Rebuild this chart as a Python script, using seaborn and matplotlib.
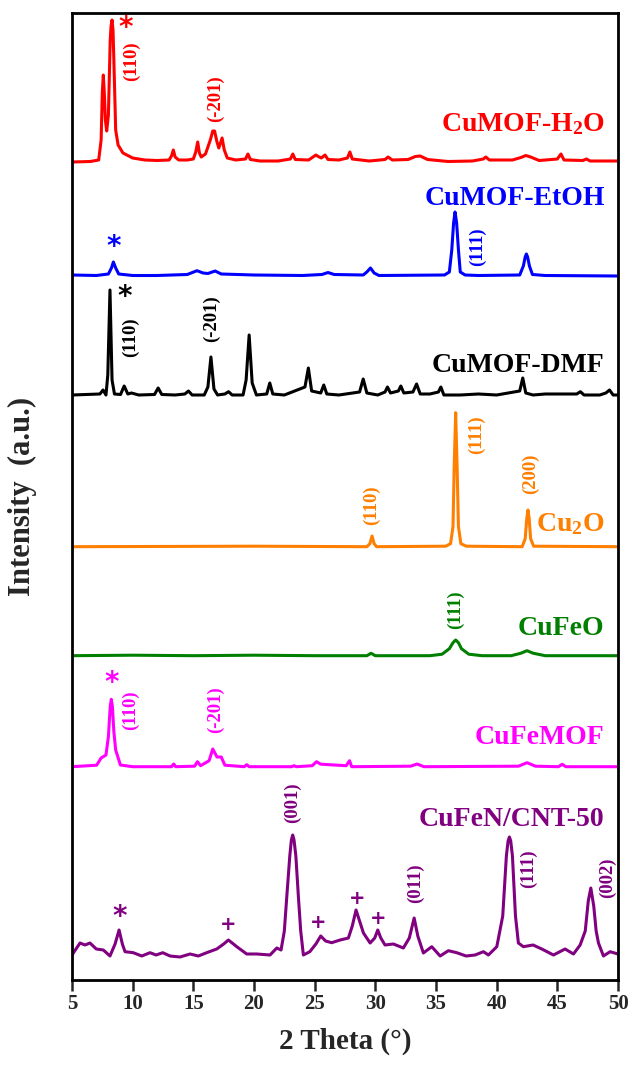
import numpy as np
import pandas as pd
import seaborn as sns
import matplotlib.pyplot as plt

# XRD patterns: 2theta (deg) and intensity above each pattern's own baseline (a.u.)
h2o_theta = [5.0, 6.5, 7.2, 7.4, 7.5, 7.58, 7.66, 7.75, 7.86, 8.0, 8.15, 8.22, 8.3, 8.38, 8.45, 8.6, 8.8,
             9.2, 10.0, 11.0, 12.0, 13.0, 13.2, 13.35, 13.5, 13.8, 14.5, 15.0, 15.2, 15.36, 15.5, 15.65,
             16.0, 16.4, 16.6, 16.75, 16.95, 17.1, 17.37, 17.55, 17.8, 18.5, 19.3, 19.5, 19.7, 20.5, 22.0,
             23.0, 23.2, 23.4, 24.5, 25.1, 25.3, 25.55, 25.85, 26.1, 27.0, 27.7, 27.9, 28.1, 29.5, 30.8,
             31.05, 31.4, 32.7, 33.3, 33.7, 34.3, 36.0, 38.0, 38.9, 39.1, 39.4, 41.3, 42.0, 42.4, 42.8,
             43.5, 45.0, 45.3, 45.55, 47.1, 47.4, 47.7, 49.0, 50.0]
h2o_int = [0, 0.5, 2, 22, 70, 87, 70, 42, 31, 47, 122, 136, 142, 132, 102, 32, 17,
           9, 4, 2, 1.5, 2, 6, 12, 5, 2, 2, 3, 10, 20, 9, 5,
           8, 22, 31, 31, 20, 14, 24, 12, 4, 2, 3, 8, 2.5, 1, 1,
           3, 8, 2.5, 2, 7, 5.5, 4, 7, 2.5, 2, 4, 10, 3, 1, 2.5,
           5, 2, 2.5, 5.5, 6, 2.5, 0.5, 1, 3, 5, 2, 2, 4.5, 6.5, 5,
           1.5, 3, 8, 2, 1.5, 3, 1, 1, 1]

etoh_theta = [5.0, 7.0, 8.0, 8.25, 8.41, 8.6, 8.85, 10.0, 12.0, 14.5, 15.3, 15.8, 16.2, 16.8, 17.3, 20.0,
              24.0, 25.6, 26.1, 26.6, 29.0, 29.3, 29.6, 29.9, 30.3, 35.7, 36.1, 36.3, 36.45, 36.57, 36.7,
              36.85, 37.0, 37.4, 38.5, 41.9, 42.2, 42.35, 42.45, 42.55, 42.7, 42.95, 44.0, 50.0]
etoh_int = [0, -0.5, 1, 7, 13, 7, 1, -0.5, -0.5, 0.5, 4.3, 2, 1.5, 4, 1, 0,
            -0.5, 0.5, 2.5, 0.5, 0, 3, 7, 2, -0.5, 0, 3, 25, 52, 63, 52,
            25, 3, 0, -0.5, 0, 9, 18, 21, 18, 9, 0.5, -0.5, -1]

dmf_theta = [5.0, 7.3, 7.56, 7.8, 7.95, 8.13, 8.3, 8.5, 9.0, 9.3, 9.6, 9.9, 10.5, 11.8, 12.1, 12.4, 13.5,
             14.3, 14.6, 14.9, 15.9, 16.2, 16.45, 16.7, 17.0, 17.6, 17.9, 18.2, 19.1, 19.35, 19.6, 19.85,
             20.2, 21.05, 21.3, 21.55, 22.5, 24.2, 24.48, 24.75, 25.5, 25.75, 26.0, 27.0, 28.7, 29.0,
             29.3, 30.2, 30.8, 31.0, 31.25, 31.9, 32.1, 32.35, 33.1, 33.4, 33.7, 34.5, 35.2, 35.4,
             35.65, 37.0, 38.5, 40.0, 41.9, 42.15, 42.4, 43.0, 44.0, 46.6, 46.9, 47.2, 48.5, 49.0,
             49.3, 49.6, 50.0]
dmf_int = [0, 1, 5, 0, 20, 105, 15, 1, 0.5, 9, 1, 2, 0, 0.5, 7, 0.5, 0,
           1, 4, 0, 0, 8, 38, 6, 0, 1, 3.3, 0, 0, 15, 60, 12,
           0, 1, 12, 1, 0, 8, 27, 4, 2, 10, 1, 0, 3, 16,
           2, 0, 3, 8, 2, 4, 9, 2, 3, 11, 1, 1, 3, 8,
           0, 0, 1, 0, 4, 17, 2, 0, 1, 1, 3.3, 0, 0, 2,
           5, 0, 0]

cu2o_theta = [5.0, 20.0, 29.3, 29.55, 29.73, 29.9, 30.1, 35.8, 36.2, 36.4, 36.5, 36.62, 36.74, 36.85,
              37.05, 37.5, 42.1, 42.35, 42.48, 42.58, 42.68, 42.8, 43.05, 50.0]
cu2o_int = [0, 0.5, 0, 3, 10.7, 3, 0, 0.5, 3, 20, 80, 134, 80, 20,
            3, 0.5, 0, 8, 28, 36.7, 28, 8, 0.5, 0]

cufeo_theta = [5.0, 10.0, 15.0, 20.0, 25.0, 29.3, 29.65, 30.0, 34.5, 35.5, 36.1, 36.4, 36.62, 36.85,
               37.1, 37.7, 38.8, 41.2, 42.0, 42.5, 43.0, 44.0, 50.0]
cufeo_int = [0, 0.5, 0, 0.5, 0, 0, 2.4, 0, 0, 1.5, 7, 13, 15.7, 13,
             7, 1.5, 0, 0, 2.5, 5, 2.5, 0, 0]

cufemof_theta = [5.0, 7.03, 7.4, 7.8, 8.0, 8.15, 8.24, 8.33, 8.45, 8.6, 8.99, 10.0, 13.2, 13.38, 13.55,
                 15.1, 15.34, 15.6, 16.3, 16.6, 16.95, 17.3, 17.6, 19.2, 19.4, 19.6, 23.1, 23.3, 23.5,
                 24.8, 25.15, 25.5, 27.6, 27.87, 28.05, 32.9, 33.45, 34.0, 41.8, 42.5, 43.2, 45.1, 45.4,
                 45.7, 50.0]
cufemof_int = [0, 1.5, 8.7, 11.7, 30, 60, 67.4, 60, 35, 16.7, 1.7, 0, 0, 2.7, 0,
               0.5, 5, 1, 6, 17.7, 9.7, 9.7, 1.5, 0, 2, 0, 0, 1, 0,
               1, 5, 2.5, 1, 6, 0, 0.5, 2.7, 0, 0.5, 4, 0.5, 0, 2.4,
               0, 0]

cnt_theta = [5.0, 5.66, 6.07, 6.48, 7.0, 7.58, 8.13, 8.55, 8.88, 9.15, 9.37, 10.05, 10.75, 11.43, 11.93,
             12.48, 13.08, 13.9, 14.73, 15.41, 16.1, 16.93, 17.5, 17.89, 18.2, 18.58, 19.4, 20.23, 21.32,
             21.88, 22.23, 22.5, 22.7, 22.95, 23.08, 23.19, 23.3, 23.45, 23.66, 23.85, 24.07, 24.6, 25.1,
             25.5, 25.9, 26.4, 27.1, 27.78, 28.1, 28.41, 28.7, 29.02, 29.57, 29.95, 30.2, 30.45, 30.8,
             31.49, 32.31, 32.8, 33.2, 33.5, 33.96, 34.65, 35.34, 36.02, 36.71, 37.48, 38.22, 38.91,
             39.32, 40.01, 40.5, 40.8, 40.94, 41.05, 41.16, 41.3, 41.55, 41.79, 42.2, 43.0, 43.72, 44.68,
             45.64, 46.33, 46.88, 47.3, 47.55, 47.76, 48.0, 48.2, 48.39, 48.8, 49.35, 50.0]
cnt_int = [1, 13, 11, 13, 7, 6, 0, 12, 26, 12, 4.3, 3.3, 0, 3.3, 1,
           3.3, 0, -1, 2, 0, 3.3, 7, 12, 16, 13, 9.3, 2, 2, 1,
           8, 6, 25, 59, 100, 116, 121, 116, 100, 59, 25, 1, 4.3, 12,
           20, 15, 13.3, 16, 18, 30, 46, 35, 23, 13, 18, 26, 18, 11,
           12, 8, 18, 38, 20, 3, 9.3, 0, 5.3, 3.3, 0, 1, 4.3,
           1, 9.3, 40, 100, 115, 119, 115, 100, 40, 13, 9.3, 11, 7, 1,
           7, 2, 11, 25, 55, 68, 50, 25, 13, 0, 4.3, 2]

samples = ['CuMOF-H2O', 'CuMOF-EtOH', 'CuMOF-DMF', 'Cu2O', 'CuFeO', 'CuFeMOF', 'CuFeN/CNT-50']
sample_labels = ['CuMOF-H$_2$O', 'CuMOF-EtOH', 'CuMOF-DMF', 'Cu$_2$O', 'CuFeO', 'CuFeMOF', 'CuFeN/CNT-50']
offsets = [818, 705, 585, 433.3, 324.3, 213.3, 24]
colors = ['#ff0000', '#0000ff', '#000000', '#ff7f00', '#007f00', '#ff00ff', '#800080']
thetas = [h2o_theta, etoh_theta, dmf_theta, cu2o_theta, cufeo_theta, cufemof_theta, cnt_theta]
ints = [h2o_int, etoh_int, dmf_int, cu2o_int, cufeo_int, cufemof_int, cnt_int]

# sample name position (baseline height of text, stacked units)
name_y = [849, 775, 608, 449, 345, 236, 154]

# peak annotations: sample index, text, 2theta, height (stacked units)
ann_idx = [0, 0, 0, 1, 1, 2, 2, 2, 3, 3, 3, 4, 5, 5, 5, 6, 6, 6, 6, 6, 6, 6, 6, 6]
ann_text = ['*', '(110)', '(-201)', '*', '(111)', '*', '(110)', '(-201)', '(110)', '(111)', '(200)',
            '(111)', '*', '(110)', '(-201)', '*', '+', '+', '+', '+', '(001)', '(011)', '(111)', '(002)']
ann_x = [9.45, 9.9, 16.84, 8.41, 38.4, 9.37, 9.78, 16.5, 29.7, 38.3, 42.8,
         36.6, 8.24, 9.8, 16.85, 8.9, 17.9, 25.3, 28.5, 30.2, 23.2, 33.3, 42.6, 49.1]
ann_y = [952, 919, 881, 733, 733, 683, 643, 661, 475, 545, 506,
         370, 297, 270, 270, 63, 55, 57, 82, 62, 177, 97, 111, 102]

rows = []
for s, th, it, off in zip(samples, thetas, ints, offsets):
    for t, v in zip(th, it):
        rows.append({'sample': s, 'theta': t, 'y': v + off})
df = pd.DataFrame(rows)

sns.set_style('white')
plt.rcParams['font.family'] = ['Liberation Serif', 'DejaVu Serif']
plt.rcParams['font.weight'] = 'bold'
plt.rcParams['axes.labelweight'] = 'bold'
plt.rcParams['mathtext.fontset'] = 'custom'
plt.rcParams['mathtext.rm'] = 'Liberation Serif:bold'
plt.rcParams['mathtext.bf'] = 'Liberation Serif:bold'
plt.rcParams['mathtext.default'] = 'rm'

fig = plt.figure(figsize=(6.35, 10.65), dpi=100)
ax = fig.add_axes([72 / 635, 1 - 980 / 1065, 546 / 635, 967.5 / 1065])

sns.lineplot(data=df, x='theta', y='y', hue='sample', palette=dict(zip(samples, colors)),
             estimator=None, sort=False, legend=False, linewidth=2.2, ax=ax)

for lab, yy, c in zip(sample_labels, name_y, colors):
    ax.text(48.9, yy, lab, color=c, fontsize=20, fontweight='bold', ha='right', va='baseline')

for i, t, x, y in zip(ann_idx, ann_text, ann_x, ann_y):
    if t == '*':
        ax.text(x, y, t, color=colors[i], fontsize=20, fontweight='bold', ha='center', va='center',
                family='DejaVu Sans')
    elif t == '+':
        ax.text(x, y, t, color=colors[i], fontsize=14, fontweight='bold', ha='center', va='center',
                family='DejaVu Sans')
    else:
        ax.text(x, y, t, color=colors[i], fontsize=13.5, fontweight='bold', ha='center', va='center',
                rotation=90)

ax.set_xlim(5, 50)
ax.set_ylim(0, 967.5)
ax.set_xticks(np.arange(5, 51, 5))
ax.set_xticks(np.arange(7.5, 50, 5), minor=True)
ax.set_yticks([])
ax.tick_params(axis='x', which='major', direction='out', length=8, width=1.8, labelsize=15, pad=2)
ax.tick_params(axis='x', which='minor', direction='out', length=4.5, width=1.5)
ax.tick_params(axis='x', bottom=True, top=False)
for sp in ax.spines.values():
    sp.set_linewidth(2)
    sp.set_color('black')

ax.set_xlabel('2 Theta (°)', fontsize=21, fontweight='bold', labelpad=10)
ax.set_ylabel('Intensity  (a.u.)', fontsize=22, fontweight='bold')
ax.yaxis.set_label_coords(-0.065, 0.5)

fig.savefig('out.png', dpi=100)
